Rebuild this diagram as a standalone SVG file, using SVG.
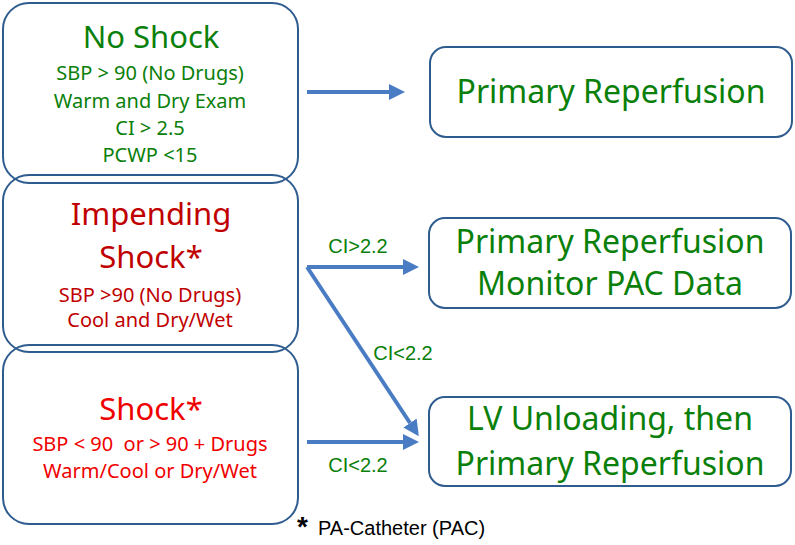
<svg xmlns="http://www.w3.org/2000/svg" width="795" height="545" viewBox="0 0 795 545">
<defs>
<style>
.box{fill:none;stroke:#2F5C8F;stroke-width:2}
.t{font-family:"Noto Sans","Liberation Sans",sans-serif;text-anchor:middle}
.g{fill:#0A800A}
.dr{fill:#C00000}
.r{fill:#F00000}
.big{font-size:31px}
.rb{font-size:32px}
.sm{font-size:20px}
.lab{font-family:"Liberation Sans",Arial,sans-serif;font-size:20px;fill:#0A800A;text-anchor:middle}
.c{fill:none;stroke:#4A7CC4;stroke-width:4}
</style>
<marker id="ah" markerWidth="4" markerHeight="4" refX="0" refY="2" orient="auto" markerUnits="strokeWidth" viewBox="0 0 4 4">
<path d="M0,0 L4,2 L0,4 Z" fill="#4A7CC4"/>
</marker>
</defs>
<rect width="795" height="545" fill="#fff"/>
<g id="noshock">
<rect class="box" x="3" y="3" width="295" height="180" rx="26"/>
<text class="t g big" x="151" y="48">No Shock</text>
<text class="t g sm" x="150" y="80">SBP &gt; 90 (No Drugs)</text>
<text class="t g sm" x="150" y="108">Warm and Dry Exam</text>
<text class="t g sm" x="150" y="135">CI &gt; 2.5</text>
<text class="t g sm" x="150" y="162">PCWP &lt;15</text>
</g>
<g id="impending">
<rect class="box" x="3" y="175" width="295" height="177" rx="26"/>
<text class="t dr big" x="151" y="225">Impending</text>
<text class="t dr big" x="151" y="268">Shock*</text>
<text class="t dr sm" x="150" y="302">SBP &gt;90 (No Drugs)</text>
<text class="t dr sm" x="150" y="327">Cool and Dry/Wet</text>
</g>
<g id="shock">
<rect class="box" x="3" y="345" width="295" height="179" rx="26"/>
<text class="t r big" x="151" y="420">Shock*</text>
<text class="t r sm" x="150" y="451" xml:space="preserve">SBP &lt; 90  or &gt; 90 + Drugs</text>
<text class="t r sm" x="150" y="478">Warm/Cool or Dry/Wet</text>
</g>
<g id="reperfusion">
<rect class="box" x="430" y="47" width="362" height="90" rx="16"/>
<text class="t g rb" x="611" y="103">Primary Reperfusion</text>
</g>
<g id="monitor">
<rect class="box" x="429" y="218" width="362" height="90" rx="16"/>
<text class="t g rb" x="610" y="253">Primary Reperfusion</text>
<text class="t g rb" x="610" y="295">Monitor PAC Data</text>
</g>
<g id="unloading">
<rect class="box" x="429" y="397" width="362" height="89" rx="16"/>
<text class="t g rb" x="610" y="430">LV Unloading, then</text>
<text class="t g rb" x="610" y="475">Primary Reperfusion</text>
</g>
<g id="connectors">
<line class="c" x1="307" y1="92" x2="389" y2="92" marker-end="url(#ah)"/>
<polyline class="c" points="307,267 403,267" marker-end="url(#ah)"/>
<line class="c" x1="307" y1="267" x2="410" y2="423" marker-end="url(#ah)"/>
<line class="c" x1="307" y1="442" x2="403" y2="442" marker-end="url(#ah)"/>
<text class="lab" x="358" y="253">CI&gt;2.2</text>
<text class="lab" x="403" y="360">CI&lt;2.2</text>
<text class="lab" x="358" y="472">CI&lt;2.2</text>
</g>
<g id="footnote">
<text x="297" y="536" font-family="Liberation Sans,Arial,sans-serif" font-size="28" font-weight="bold" fill="#000">*</text>
<text x="318" y="535" font-family="Liberation Sans,Arial,sans-serif" font-size="20" fill="#000">PA-Catheter (PAC)</text>
</g>
</svg>
